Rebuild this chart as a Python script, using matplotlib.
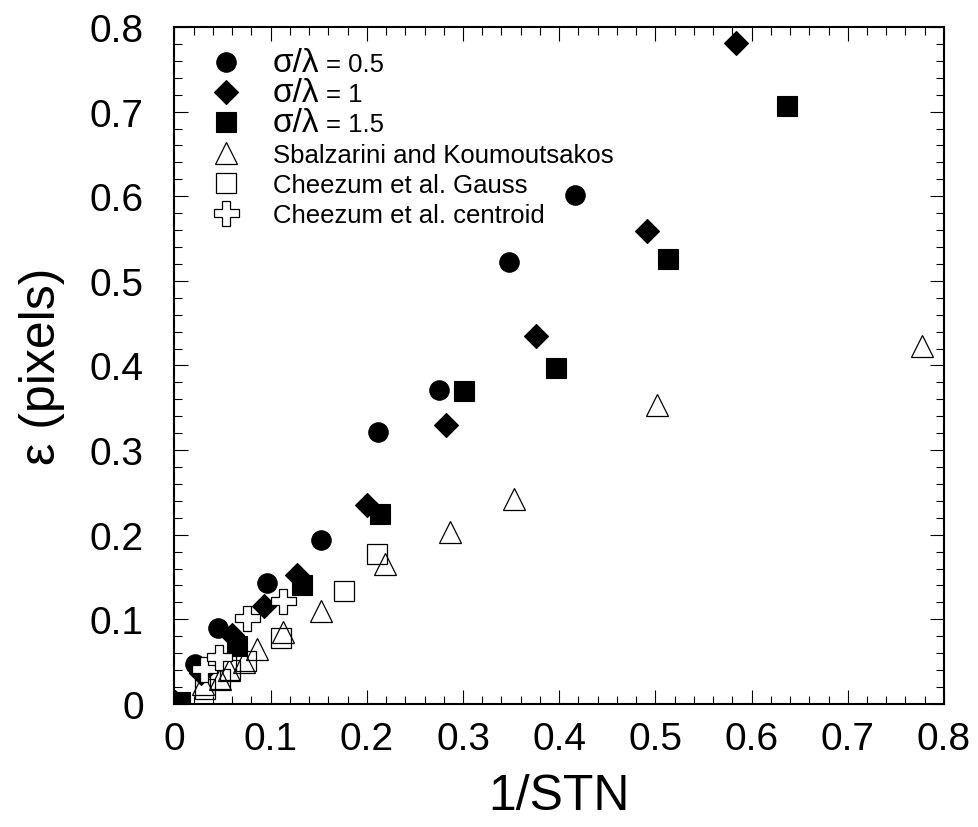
"""
Localisation error vs inverse signal-to-noise ratio.
"""
import matplotlib
matplotlib.use('Agg')
import matplotlib.pyplot as plt
from matplotlib.ticker import MultipleLocator, FuncFormatter

OUTPUT_PNG = "out.png"

# --- data ---
sig05_x = [0.002, 0.021, 0.0455, 0.096, 0.152, 0.212, 0.275, 0.348, 0.416]
sig05_y = [0.002, 0.047, 0.090, 0.143, 0.194, 0.321, 0.371, 0.522, 0.601]

sig1_x = [0.001, 0.028, 0.0594, 0.093, 0.127, 0.200, 0.282, 0.3755, 0.4917, 0.5835]
sig1_y = [0.002, 0.036, 0.081, 0.116, 0.152, 0.235, 0.330, 0.435, 0.559, 0.781]

sig15_x = [0.006, 0.0646, 0.133, 0.214, 0.301, 0.3966, 0.513, 0.6365]
sig15_y = [0.002, 0.069, 0.140, 0.224, 0.370, 0.397, 0.526, 0.707]

sbal_x = [0.030, 0.047, 0.057, 0.072, 0.0855, 0.1125, 0.1526, 0.219, 0.286, 0.353, 0.502, 0.777]
sbal_y = [0.024, 0.030, 0.040, 0.050, 0.065, 0.085, 0.110, 0.165, 0.203, 0.242, 0.353, 0.4235]

gauss_x = [0.0317, 0.047, 0.058, 0.0743, 0.111, 0.1765, 0.2105]
gauss_y = [0.018, 0.030, 0.040, 0.051, 0.078, 0.134, 0.177]

centroid_x = [0.031, 0.0466, 0.075, 0.113]
centroid_y = [0.041, 0.056, 0.101, 0.122]

sig_labels = ["0.5", "1", "1.5"]
other_labels = ["Sbalzarini and Koumoutsakos", "Cheezum et al. Gauss", "Cheezum et al. centroid"]

plt.rcParams['font.family'] = ['Liberation Sans', 'DejaVu Sans']

fig = plt.figure(figsize=(9.79, 8.28), dpi=100)
ax = fig.add_axes([0.1782, 0.1486, 0.786, 0.8176])

# filled series (sigma/lambda)
ax.plot(sig05_x, sig05_y, 'o', color='black', ms=14, mew=0.8, ls='none')
ax.plot(sig1_x, sig1_y, 'D', color='black', ms=12.5, mew=0.8, ls='none')
ax.plot(sig15_x, sig15_y, 's', color='black', ms=15, mew=0.8, ls='none')

# literature comparisons
ax.plot(sbal_x, sbal_y, '^', mfc='none', mec='black', ms=16, mew=0.9, ls='none')
ax.plot(gauss_x, gauss_y, 's', mfc='none', mec='black', ms=15, mew=0.9, ls='none')
ax.plot(centroid_x, centroid_y, 'P', mfc='white', mec='black', ms=18, mew=0.9, ls='none')

ax.set_xlim(0, 0.8)
ax.set_ylim(0, 0.8)
ax.xaxis.set_major_locator(MultipleLocator(0.1))
ax.yaxis.set_major_locator(MultipleLocator(0.1))
ax.xaxis.set_minor_locator(MultipleLocator(0.02))
ax.yaxis.set_minor_locator(MultipleLocator(0.02))
fmt = FuncFormatter(lambda v, p: "0" if abs(v) < 1e-9 else f"{v:.1f}")
ax.xaxis.set_major_formatter(fmt)
ax.yaxis.set_major_formatter(fmt)

ax.tick_params(which='both', direction='in', top=True, right=True, width=0.8, labelsize=28)
ax.tick_params(which='major', length=10)
ax.tick_params(which='minor', length=5.5)
ax.tick_params(axis='x', pad=12)
ax.tick_params(axis='y', pad=22)
for sp in ax.spines.values():
    sp.set_linewidth(1.5)

ax.set_xlabel("1/STN", fontsize=36, labelpad=12)
ax.set_ylabel("ε (pixels)", fontsize=36, labelpad=18)

# legend: the sigma/lambda rows get empty labels, their text is drawn
# afterwards (big "σ/λ" followed by a smaller "= value" on the same baseline)
labels = [""] * len(sig_labels) + other_labels
leg = ax.legend(labels, loc='upper left', bbox_to_anchor=(0.034, 0.963), frameon=False,
                fontsize=18.5, numpoints=1, handlelength=2.0, handletextpad=0.8,
                borderpad=0, borderaxespad=0, labelspacing=0.24)
for t, s in zip(leg.get_texts()[:3], sig_labels):
    sl = ax.annotate("σ/λ", xy=(0, 0), xycoords=t, fontsize=24,
                     ha='left', va='baseline', zorder=6)
    ax.annotate("= " + s, xy=(1, 0), xycoords=(sl, t), xytext=(5, 0), textcoords='offset points',
                fontsize=18.5, ha='left', va='baseline', zorder=6)

fig.savefig(OUTPUT_PNG, dpi=100)
